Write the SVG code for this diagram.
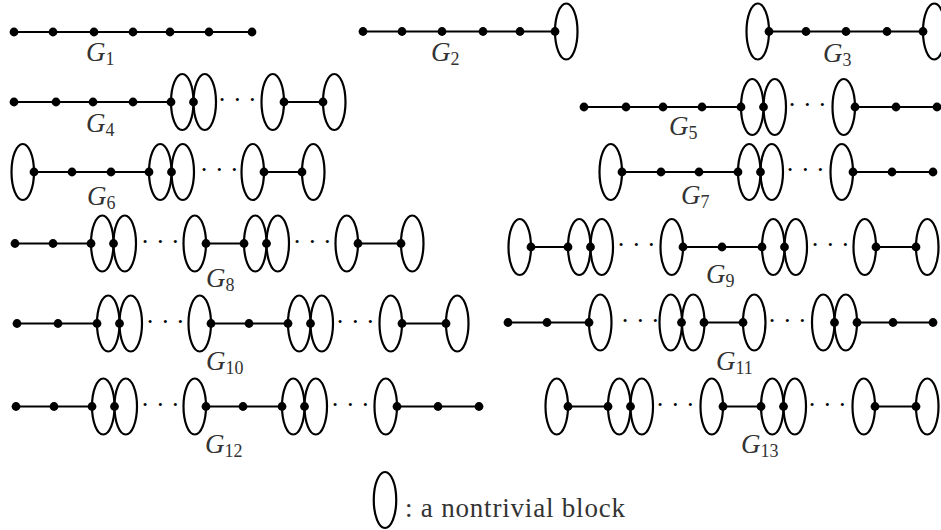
<svg xmlns="http://www.w3.org/2000/svg" xmlns:xlink="http://www.w3.org/1999/xlink" width="941" height="530" viewBox="0 0 941 530">
<style>
.e{fill:none;stroke:#000;stroke-width:2.2}
.ed{fill:none;stroke:#000;stroke-width:2.2}
.lb{font-family:"Liberation Serif","Times New Roman",serif;font-style:italic;font-size:27px;fill:#333}
.s{font-style:normal;font-size:18px}
.dt{font-family:"Liberation Serif","Times New Roman",serif;font-size:26px;letter-spacing:6.5px;fill:#000}
.lg{font-family:"Liberation Serif","Times New Roman",serif;font-size:27px;fill:#333}
</style>
<defs>
<ellipse id="b" class="e" cx="0" cy="0" rx="11.25" ry="28"/>
<circle id="v" cx="0" cy="0" r="4.4" fill="#000"/>
</defs>
<rect width="941" height="530" fill="#fff"/>
<g id="connectors">
<path class="ed" d="M14 32H252"/>
<path class="ed" d="M363 31.5H555"/>
<path class="ed" d="M769 31.5H923"/>
<path class="ed" d="M14 102H171M284 102H323"/>
<path class="ed" d="M584 107H741M855 107H937"/>
<path class="ed" d="M34 172H149M264 172H302"/>
<path class="ed" d="M622 172H738M853 172H933"/>
<path class="ed" d="M15 243.5H91M206 243.5H244M358 243.5H401"/>
<path class="ed" d="M531 247H568M683 247H762M876 247H916"/>
<path class="ed" d="M17 323.5H97M211 323.5H288M402 323.5H446"/>
<path class="ed" d="M508 322.5H589M704 322.5H743M857 322.5H933"/>
<path class="ed" d="M16 406.5H92M206 406.5H282M397 406.5H479"/>
<path class="ed" d="M568 406.5H608M723 406.5H761M875 406.5H916"/>
</g>
<g id="G1">
<use href="#v" x="14" y="32"/><use href="#v" x="53" y="32"/><use href="#v" x="94" y="32"/><use href="#v" x="133" y="32"/><use href="#v" x="170" y="32"/><use href="#v" x="209" y="32"/><use href="#v" x="252" y="32"/>
<text class="lb" x="86" y="61">G<tspan class="s" dy="4">1</tspan></text>
</g>
<g id="G2">
<use href="#b" x="566.25" y="31.5"/>
<use href="#v" x="363" y="31.5"/><use href="#v" x="402" y="31.5"/><use href="#v" x="442" y="31.5"/><use href="#v" x="483" y="31.5"/><use href="#v" x="520" y="31.5"/><use href="#v" x="555" y="31.5"/>
<text class="lb" x="431" y="61">G<tspan class="s" dy="4">2</tspan></text>
</g>
<g id="G3">
<use href="#b" x="757.75" y="31.5"/><use href="#b" x="934.25" y="31.5"/>
<use href="#v" x="769" y="31.5"/><use href="#v" x="806" y="31.5"/><use href="#v" x="846" y="31.5"/><use href="#v" x="887" y="31.5"/><use href="#v" x="923" y="31.5"/>
<text class="lb" x="823" y="62">G<tspan class="s" dy="4">3</tspan></text>
</g>
<g id="G4">
<use href="#b" x="182.25" y="102"/><use href="#b" x="204.75" y="102"/><use href="#b" x="272.75" y="102"/><use href="#b" x="334.25" y="102"/>
<use href="#v" x="14" y="102"/><use href="#v" x="56" y="102"/><use href="#v" x="93" y="102"/><use href="#v" x="133" y="102"/><use href="#v" x="171" y="102"/><use href="#v" x="193.5" y="102"/><use href="#v" x="284" y="102"/><use href="#v" x="323" y="102"/>
<text class="dt" x="217.75" y="108">···</text>
<text class="lb" x="86" y="132">G<tspan class="s" dy="4">4</tspan></text>
</g>
<g id="G5">
<use href="#b" x="752.25" y="107"/><use href="#b" x="774.75" y="107"/><use href="#b" x="843.75" y="107"/>
<use href="#v" x="584" y="107"/><use href="#v" x="626" y="107"/><use href="#v" x="663" y="107"/><use href="#v" x="702" y="107"/><use href="#v" x="741" y="107"/><use href="#v" x="763.5" y="107"/><use href="#v" x="855" y="107"/><use href="#v" x="896" y="107"/><use href="#v" x="937" y="107"/>
<text class="dt" x="787.75" y="113">···</text>
<text class="lb" x="669" y="135">G<tspan class="s" dy="4">5</tspan></text>
</g>
<g id="G6">
<use href="#b" x="22.75" y="172"/><use href="#b" x="160.25" y="172"/><use href="#b" x="182.75" y="172"/><use href="#b" x="252.75" y="172"/><use href="#b" x="313.25" y="172"/>
<use href="#v" x="34" y="172"/><use href="#v" x="72" y="172"/><use href="#v" x="111" y="172"/><use href="#v" x="149" y="172"/><use href="#v" x="171.5" y="172"/><use href="#v" x="264" y="172"/><use href="#v" x="302" y="172"/>
<text class="dt" x="199.75" y="178">···</text>
<text class="lb" x="87" y="205">G<tspan class="s" dy="4">6</tspan></text>
</g>
<g id="G7">
<use href="#b" x="610.75" y="172"/><use href="#b" x="749.25" y="172"/><use href="#b" x="771.75" y="172"/><use href="#b" x="841.75" y="172"/>
<use href="#v" x="622" y="172"/><use href="#v" x="661" y="172"/><use href="#v" x="699" y="172"/><use href="#v" x="738" y="172"/><use href="#v" x="760.5" y="172"/><use href="#v" x="853" y="172"/><use href="#v" x="892" y="172"/><use href="#v" x="933" y="172"/>
<text class="dt" x="785.75" y="178">···</text>
<text class="lb" x="681" y="204">G<tspan class="s" dy="4">7</tspan></text>
</g>
<g id="G8">
<use href="#b" x="102.25" y="243.5"/><use href="#b" x="124.75" y="243.5"/><use href="#b" x="194.75" y="243.5"/><use href="#b" x="255.25" y="243.5"/><use href="#b" x="277.75" y="243.5"/><use href="#b" x="346.75" y="243.5"/><use href="#b" x="412.25" y="243.5"/>
<use href="#v" x="15" y="243.5"/><use href="#v" x="53" y="243.5"/><use href="#v" x="91" y="243.5"/><use href="#v" x="113.5" y="243.5"/><use href="#v" x="206" y="243.5"/><use href="#v" x="244" y="243.5"/><use href="#v" x="266.5" y="243.5"/><use href="#v" x="358" y="243.5"/><use href="#v" x="401" y="243.5"/>
<text class="dt" x="140.75" y="249.5">···</text>
<text class="dt" x="292.75" y="249.5">···</text>
<text class="lb" x="206" y="287">G<tspan class="s" dy="4">8</tspan></text>
</g>
<g id="G9">
<use href="#b" x="519.75" y="247"/><use href="#b" x="579.25" y="247"/><use href="#b" x="601.75" y="247"/><use href="#b" x="671.75" y="247"/><use href="#b" x="773.25" y="247"/><use href="#b" x="795.75" y="247"/><use href="#b" x="864.75" y="247"/><use href="#b" x="927.25" y="247"/>
<use href="#v" x="531" y="247"/><use href="#v" x="568" y="247"/><use href="#v" x="590.5" y="247"/><use href="#v" x="683" y="247"/><use href="#v" x="722" y="247"/><use href="#v" x="762" y="247"/><use href="#v" x="784.5" y="247"/><use href="#v" x="876" y="247"/><use href="#v" x="916" y="247"/>
<text class="dt" x="616.75" y="253">···</text>
<text class="dt" x="810.75" y="253">···</text>
<text class="lb" x="706" y="283">G<tspan class="s" dy="4">9</tspan></text>
</g>
<g id="G10">
<use href="#b" x="108.25" y="323.5"/><use href="#b" x="130.75" y="323.5"/><use href="#b" x="199.75" y="323.5"/><use href="#b" x="299.25" y="323.5"/><use href="#b" x="321.75" y="323.5"/><use href="#b" x="390.75" y="323.5"/><use href="#b" x="457.25" y="323.5"/>
<use href="#v" x="17" y="323.5"/><use href="#v" x="58" y="323.5"/><use href="#v" x="97" y="323.5"/><use href="#v" x="119.5" y="323.5"/><use href="#v" x="211" y="323.5"/><use href="#v" x="249" y="323.5"/><use href="#v" x="288" y="323.5"/><use href="#v" x="310.5" y="323.5"/><use href="#v" x="402" y="323.5"/><use href="#v" x="446" y="323.5"/>
<text class="dt" x="145.75" y="329.5">···</text>
<text class="dt" x="335.75" y="329.5">···</text>
<text class="lb" x="206" y="370">G<tspan class="s" dy="4">10</tspan></text>
</g>
<g id="G11">
<use href="#b" x="600.25" y="322.5"/><use href="#b" x="670.75" y="322.5"/><use href="#b" x="693.25" y="322.5"/><use href="#b" x="754.25" y="322.5"/><use href="#b" x="823.25" y="322.5"/><use href="#b" x="845.75" y="322.5"/>
<use href="#v" x="508" y="322.5"/><use href="#v" x="547" y="322.5"/><use href="#v" x="589" y="322.5"/><use href="#v" x="681.5" y="322.5"/><use href="#v" x="704" y="322.5"/><use href="#v" x="743" y="322.5"/><use href="#v" x="834.5" y="322.5"/><use href="#v" x="857" y="322.5"/><use href="#v" x="893" y="322.5"/><use href="#v" x="933" y="322.5"/>
<text class="dt" x="620.75" y="328.5">···</text>
<text class="dt" x="767.75" y="328.5">···</text>
<text class="lb" x="716" y="370">G<tspan class="s" dy="4">11</tspan></text>
</g>
<g id="G12">
<use href="#b" x="103.25" y="406.5"/><use href="#b" x="125.75" y="406.5"/><use href="#b" x="194.75" y="406.5"/><use href="#b" x="293.25" y="406.5"/><use href="#b" x="315.75" y="406.5"/><use href="#b" x="385.75" y="406.5"/>
<use href="#v" x="16" y="406.5"/><use href="#v" x="54" y="406.5"/><use href="#v" x="92" y="406.5"/><use href="#v" x="114.5" y="406.5"/><use href="#v" x="206" y="406.5"/><use href="#v" x="243" y="406.5"/><use href="#v" x="282" y="406.5"/><use href="#v" x="304.5" y="406.5"/><use href="#v" x="397" y="406.5"/><use href="#v" x="438" y="406.5"/><use href="#v" x="479" y="406.5"/>
<text class="dt" x="140.75" y="412.5">···</text>
<text class="dt" x="330.75" y="412.5">···</text>
<text class="lb" x="205" y="453">G<tspan class="s" dy="4">12</tspan></text>
</g>
<g id="G13">
<use href="#b" x="556.75" y="406.5"/><use href="#b" x="619.25" y="406.5"/><use href="#b" x="641.75" y="406.5"/><use href="#b" x="711.75" y="406.5"/><use href="#b" x="772.25" y="406.5"/><use href="#b" x="794.75" y="406.5"/><use href="#b" x="863.75" y="406.5"/><use href="#b" x="927.25" y="406.5"/>
<use href="#v" x="568" y="406.5"/><use href="#v" x="608" y="406.5"/><use href="#v" x="630.5" y="406.5"/><use href="#v" x="723" y="406.5"/><use href="#v" x="761" y="406.5"/><use href="#v" x="783.5" y="406.5"/><use href="#v" x="875" y="406.5"/><use href="#v" x="916" y="406.5"/>
<text class="dt" x="655.75" y="412.5">···</text>
<text class="dt" x="807.75" y="412.5">···</text>
<text class="lb" x="741" y="453">G<tspan class="s" dy="4">13</tspan></text>
</g>
<g id="legend">
<use href="#b" x="385" y="500"/>
<text class="lg" x="405" y="517" textLength="220" lengthAdjust="spacing">: a nontrivial block</text>
</g>
</svg>
